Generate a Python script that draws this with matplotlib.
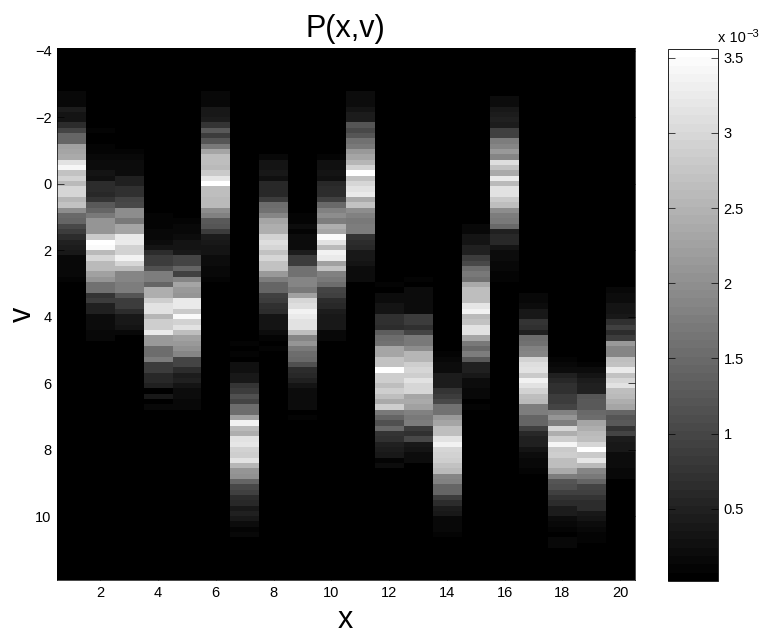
import numpy as np
import matplotlib
matplotlib.use('Agg')
from matplotlib import pyplot as plt

plt.rcParams['font.family'] = ['Liberation Sans', 'DejaVu Sans']

# grey level (0-255) read per row of each column, first row given in first_row
first_row = [8, 15, 19, 31, 32, 8, 55, 20, 31, 20, 8, 44, 43, 56, 33, 9, 46, 56, 57, 45]

col01 = [10,10,10,30,20,20,45,70,100,100,160,165,170,225,245,195,210,185,215,215,180,195,140,105,100,75,60,45,35,30,25,10,10,8,8,5]
col02 = [5,3,3,5,5,10,15,15,20,18,45,45,40,55,90,100,120,150,150,150,200,255,250,185,215,185,185,160,150,115,115,55,60,35,35,15,15,12,8,8]
col03 = [5,8,12,12,15,35,35,50,50,70,75,140,140,120,165,165,235,235,210,210,240,215,185,135,135,125,125,85,60,60,45,25,25,20,8]
col04 = [5,5,5,10,10,15,20,45,60,60,80,125,125,100,175,175,205,225,225,180,205,205,235,155,155,110,110,125,60,60,40,40,35,2,25,3,8]
col05 = [5,8,8,15,20,20,25,70,70,100,65,135,165,155,150,235,235,200,250,210,225,190,160,155,145,135,70,70,45,30,35,20,15,15,10,8]
col06 = [10,10,10,25,25,30,55,90,60,85,120,165,190,190,185,200,230,255,190,190,185,185,140,130,90,85,60,30,25,20,20,12,12,10,10,6]
col07 = [5,3,5,3,18,18,25,25,55,60,80,70,110,110,160,240,185,175,225,230,210,205,225,180,150,145,100,75,65,45,40,25,35,25,12,5,8]
col08 = [8,20,20,25,18,40,40,40,60,110,115,135,165,175,175,210,220,215,195,215,195,195,155,125,100,100,65,60,50,45,22,20,20,12,5,3,5]
col09 = [5,5,12,5,15,15,15,30,60,60,115,115,135,135,120,160,215,220,240,235,225,225,190,135,150,120,110,105,80,45,40,35,22,15,12,12,12,3,5]
col10 = [5,18,18,20,18,40,45,45,65,105,130,140,125,175,165,250,225,185,240,235,160,195,130,120,110,70,65,45,40,30,25,25,25,10,8,3]
col11 = [12,15,12,22,28,30,85,75,85,115,120,155,165,180,210,255,195,215,225,235,170,195,140,130,120,125,125,55,45,40,25,25,22,12,12,12,3]
col12 = [5,3,12,12,20,20,50,50,45,95,110,115,165,165,195,195,255,205,205,190,205,190,170,205,120,100,80,105,55,50,35,30,25,5,15]
col13 = [6,3,12,12,12,15,12,60,60,50,70,120,120,140,180,180,205,215,205,225,215,215,165,170,160,130,120,125,60,50,75,25,20,15,15]
col14 = [3,5,8,12,12,30,30,30,55,60,75,115,115,155,165,190,190,225,240,215,210,205,195,185,135,130,100,100,60,45,30,25,10,10,8,4,3]
col15 = [8,10,20,20,35,35,60,75,110,120,115,170,190,190,190,230,240,185,195,225,225,165,120,105,125,90,35,35,25,15,15,10,10,3,5,3]
col16 = [12,15,25,30,35,30,65,65,125,135,155,135,220,195,170,235,185,225,225,200,190,140,125,120,105,35,40,40,20,15,15,8,8,6,6]
col17 = [8,10,15,25,25,55,50,35,110,115,130,135,210,220,225,200,240,225,210,190,185,125,125,100,100,65,40,35,35,20,15,10,10,5]
col18 = [3,3,5,8,12,35,40,50,50,60,60,70,130,150,125,215,175,205,245,200,205,190,190,170,125,85,80,65,55,45,30,30,12,10,5,3,8,8]
col19 = [3,3,5,15,20,30,35,35,85,90,90,105,110,165,175,185,190,215,255,200,230,185,135,120,100,70,65,55,45,45,25,22,12,10,6,5]
col20 = [8,12,12,22,22,25,50,65,45,60,155,135,135,190,195,235,195,215,225,190,185,175,165,100,85,90,55,70,30,25,25,15,12,12,10,8]
columns = [col01, col02, col03, col04, col05, col06, col07, col08, col09, col10,
           col11, col12, col13, col14, col15, col16, col17, col18, col19, col20]

p_min = 0.02e-3
p_max = 3.558e-3
n_rows = 100

P = np.zeros((n_rows, len(columns)))
for i, col in enumerate(columns):
    P[first_row[i]:first_row[i]+len(col), i] = col
P = p_min + P/255.0*(p_max-p_min)

gris = plt.get_cmap('gray', 64)

fig = plt.figure(figsize=(7.63, 6.36), dpi=100)
W, H = 763.0, 636.0
ax = fig.add_axes([57/W, 1-580/H, 577.5/W, 532/H])
im = ax.imshow(P, cmap=gris, vmin=p_min, vmax=p_max, aspect='auto', interpolation='nearest',
               extent=[0.5, 20.5, 11.92, -4.08])
ax.set_xticks(range(2, 21, 2))
ax.set_yticks(range(-4, 11, 2))
ax.tick_params(direction='in', top=True, right=True, length=5, width=0.5, labelsize=10.5, pad=4, color='black')
for s in ax.spines.values():
    s.set_linewidth(0.5)
ax.set_title('P(x,v)', fontsize=22, pad=8)
ax.set_xlabel('x', fontsize=22, labelpad=4)
ax.set_ylabel('v', fontsize=22, labelpad=-2)

cax = fig.add_axes([667.5/W, 1-581/H, 50.5/W, 532/H])
cb = fig.colorbar(im, cax=cax)
cb.set_ticks([0.5e-3, 1e-3, 1.5e-3, 2e-3, 2.5e-3, 3e-3, 3.5e-3])
cb.set_ticklabels(['0.5', '1', '1.5', '2', '2.5', '3', '3.5'])
cax.yaxis.set_tick_params(which='both', direction='in', left=True, right=True, length=5, width=0.5, labelsize=10.5, pad=4)
cb.outline.set_linewidth(0.6)
fig.text(718/W, 1-42/H, 'x 10', fontsize=10.5, ha='left', va='baseline')
fig.text(746/W, 1-37/H, '\u22123', fontsize=8, ha='left', va='baseline')

fig.savefig('out.png', dpi=100)
